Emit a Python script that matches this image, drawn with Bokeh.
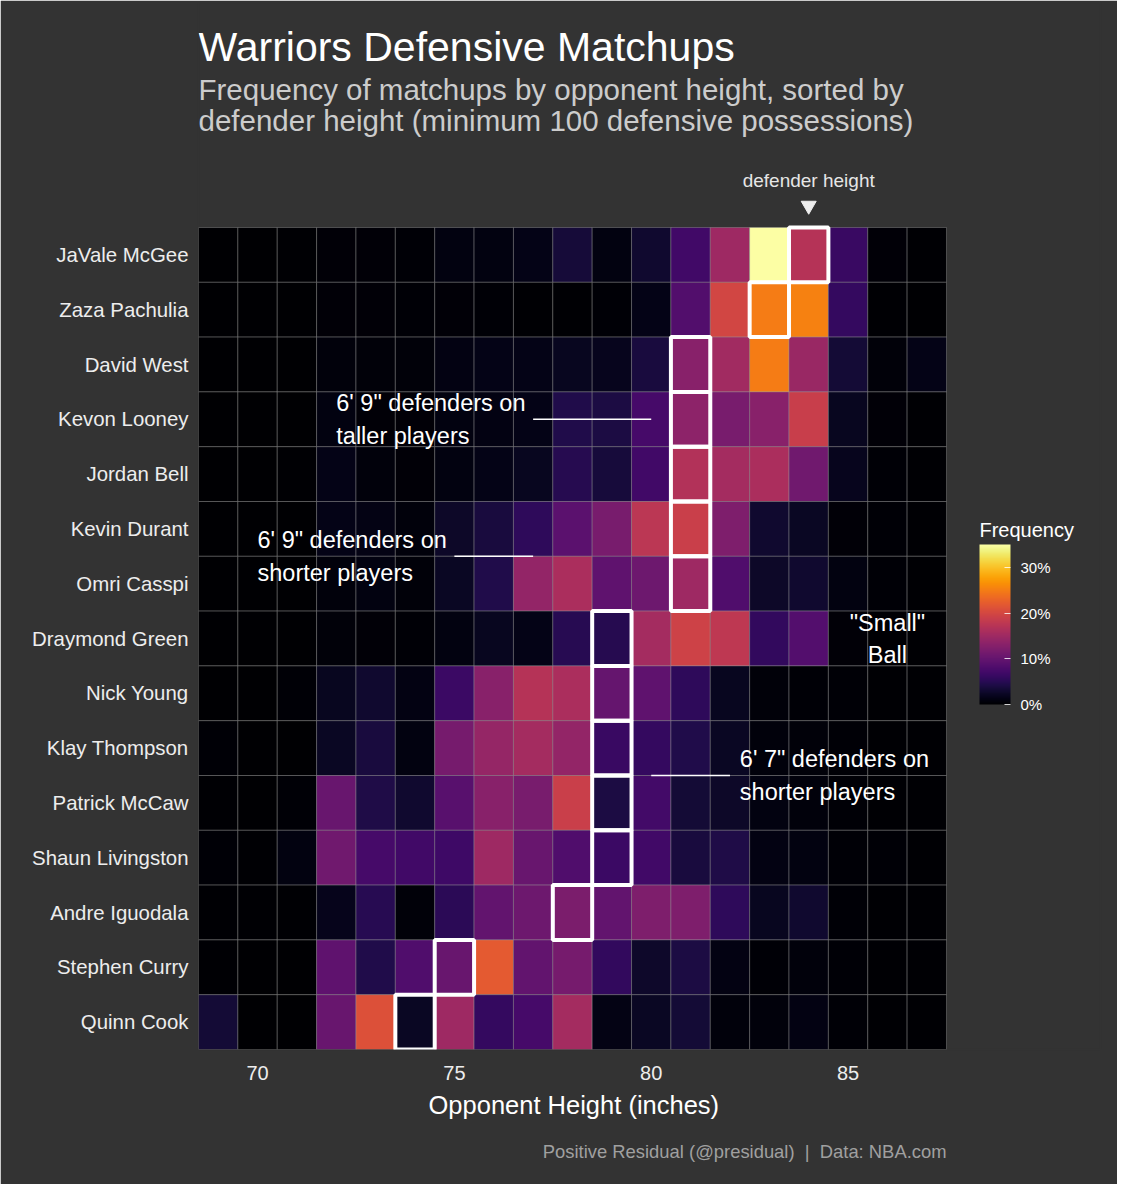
from bokeh.plotting import figure
from bokeh.models import (LinearColorMapper, ColorBar, FixedTicker, PrintfTickFormatter,
                          Range1d, ColumnDataSource, Title)
from bokeh.palettes import Inferno256
from bokeh.core.properties import value
from bokeh.embed import file_html
from bokeh.resources import INLINE

# ---------------- data ----------------
players = ["JaVale McGee", "Zaza Pachulia", "David West", "Kevon Looney", "Jordan Bell",
           "Kevin Durant", "Omri Casspi", "Draymond Green", "Nick Young", "Klay Thompson",
           "Patrick McCaw", "Shaun Livingston", "Andre Iguodala", "Stephen Curry", "Quinn Cook"]

heights = [69, 70, 71, 72, 73, 74, 75, 76, 77, 78, 79, 80, 81, 82, 83, 84, 85, 86, 87]

defender_heights = [84, 83, 81, 81, 81, 81, 81, 79, 79, 79, 79, 79, 78, 75, 74]

# frequency (%) of matchups by opponent height, one list per defender
javale_mcgee     = [0.1, 0.1, 0.2, 0.5, 0.5, 0.4, 1.0, 1.0, 1.5, 3.5, 1.0, 3.0, 7.0, 15.0, 35.0, 17.0, 6.3, 0.5, 0.2]
zaza_pachulia    = [0.1, 0.1, 0.1, 0.5, 0.5, 0.3, 0.5, 0.3, 0.2, 0.2, 0.3, 1.5, 8.4, 19.8, 25.0, 25.3, 6.0, 0.2, 0.1]
david_west       = [0.1, 0.1, 0.1, 0.8, 0.6, 0.6, 1.2, 1.5, 1.5, 2.0, 1.8, 3.8, 13.0, 15.2, 25.0, 14.5, 3.3, 0.6, 1.5]
kevon_looney     = [0.1, 0.1, 0.1, 1.0, 0.5, 0.5, 1.0, 1.2, 1.5, 4.5, 4.0, 7.5, 13.5, 11.7, 13.0, 18.8, 2.0, 0.5, 0.2]
jordan_bell      = [0.1, 0.1, 0.2, 1.5, 0.7, 0.5, 1.0, 1.5, 2.0, 4.8, 3.6, 7.0, 16.8, 15.5, 16.0, 11.0, 1.8, 0.4, 0.2]
kevin_durant     = [0.1, 0.1, 0.1, 1.5, 1.3, 0.8, 2.5, 3.8, 5.5, 9.2, 11.7, 17.5, 19.0, 12.3, 3.0, 2.3, 0.5, 0.4, 0.2]
omri_casspi      = [0.1, 0.1, 0.1, 0.8, 1.0, 0.6, 2.3, 4.5, 14.0, 16.0, 9.5, 10.7, 15.0, 8.3, 2.5, 3.0, 1.0, 0.3, 0.2]
draymond_green   = [0.1, 0.1, 0.1, 0.6, 0.5, 0.4, 1.0, 2.0, 1.5, 5.0, 4.8, 15.5, 19.3, 17.8, 5.8, 8.5, 0.5, 0.2, 0.2]
nick_young       = [0.1, 0.1, 0.3, 2.0, 3.0, 1.2, 6.5, 13.0, 17.0, 16.0, 10.0, 9.5, 5.5, 2.0, 0.6, 0.4, 0.3, 0.2, 0.2]
klay_thompson    = [0.3, 0.1, 0.1, 2.3, 3.8, 1.0, 11.5, 14.2, 15.5, 14.0, 6.3, 6.0, 4.5, 2.3, 0.7, 0.6, 0.3, 0.2, 0.2]
patrick_mccaw    = [0.2, 0.1, 0.4, 10.3, 4.3, 3.0, 9.0, 13.0, 11.7, 19.0, 4.0, 7.2, 3.3, 2.5, 1.0, 0.8, 0.4, 0.2, 0.2]
shaun_livingston = [0.4, 0.2, 1.0, 11.0, 7.5, 7.0, 6.7, 15.0, 10.3, 8.3, 6.5, 7.0, 3.8, 4.3, 1.2, 1.0, 0.4, 0.3, 0.2]
andre_iguodala   = [0.2, 0.2, 0.2, 1.7, 5.0, 0.6, 5.2, 9.8, 10.7, 12.0, 9.8, 12.3, 12.3, 5.5, 2.0, 3.0, 0.3, 0.2, 0.2]
stephen_curry    = [0.2, 0.1, 0.1, 9.5, 4.5, 8.3, 10.3, 22.0, 9.8, 11.5, 5.8, 2.7, 4.0, 1.2, 0.4, 0.8, 0.3, 0.2, 0.2]
quinn_cook       = [3.3, 0.1, 0.1, 10.3, 21.0, 2.3, 15.0, 6.0, 7.5, 15.5, 1.3, 2.3, 3.3, 0.8, 0.8, 1.2, 0.3, 0.2, 0.2]

freq_rows = [javale_mcgee, zaza_pachulia, david_west, kevon_looney, jordan_bell,
             kevin_durant, omri_casspi, draymond_green, nick_young, klay_thompson,
             patrick_mccaw, shaun_livingston, andre_iguodala, stephen_curry, quinn_cook]

x_ticks = [70, 75, 80, 85]
legend_ticks = [0, 10, 20, 30]

# ---------------- build ----------------
n = len(players)
row_y = {name: n - 1 - i for i, name in enumerate(players)}

xs, ys, fs = [], [], []
for name, row in zip(players, freq_rows):
    for h, f in zip(heights, row):
        xs.append(h)
        ys.append(row_y[name])
        fs.append(f)
src = ColumnDataSource(dict(x=xs, y=ys, freq=fs))

FONT = "Liberation Sans"
BG = "#333333"

mapper = LinearColorMapper(palette=Inferno256, low=0, high=max(fs))

# the frame is extended to the right so the legend title can sit inside it
p = figure(width=1117, height=1184,
           x_range=Range1d(68.5, 91.412), y_range=Range1d(-0.5, 18.606),
           output_backend="svg", toolbar_location=None,
           min_border_left=198, min_border_right=17, min_border_top=2, min_border_bottom=135,
           background_fill_color=BG, border_fill_color=BG,
           outline_line_color=BG, outline_line_width=1.5)
p.grid.visible = False

p.rect(x="x", y="y", width=1, height=1, source=src,
       fill_color={"field": "freq", "transform": mapper},
       line_color="#9a9a9a", line_width=0.7, line_alpha=0.6)

# defender height boxes
p.rect(x=defender_heights, y=[row_y[nm] for nm in players], width=1, height=1,
       fill_color=None, line_color="white", line_width=4)

# axes
p.yaxis.ticker = FixedTicker(ticks=list(range(n)))
p.yaxis.major_label_overrides = {row_y[nm]: nm for nm in players}
p.yaxis.axis_line_color = None
p.yaxis.major_tick_line_color = None
p.yaxis.minor_tick_line_color = None
p.yaxis.major_tick_out = 0
p.yaxis.major_tick_in = 0
p.yaxis.major_label_standoff = 10
p.yaxis.major_label_text_font = FONT
p.yaxis.major_label_text_font_size = "20.4px"
p.yaxis.major_label_text_color = "#ededed"

p.xaxis.ticker = FixedTicker(ticks=x_ticks)
p.xaxis.axis_line_color = None
p.xaxis.major_tick_line_color = None
p.xaxis.minor_tick_line_color = None
p.xaxis.major_tick_out = 0
p.xaxis.major_tick_in = 0
p.xaxis.major_label_standoff = 16
p.xaxis.major_label_text_font = FONT
p.xaxis.major_label_text_font_size = "20px"
p.xaxis.major_label_text_color = "#ededed"

# x axis title centred under the tiles (the axis itself spans the wider frame)
p.add_layout(Title(text="Opponent Height (inches)", align="left", offset=230,
                   text_font=FONT, text_font_size="25.5px", text_font_style="normal",
                   text_color="white", standoff=12), "below")

# titles (drawn in the empty space above the tiles)
p.text(x=[68.5], y=[17.785], text=["Warriors Defensive Matchups"],
       text_font=value(FONT), text_font_size="41px", text_color="white",
       text_align="left", text_baseline="middle")
p.text(x=[68.5, 68.5], y=[17.018, 16.453],
       text=["Frequency of matchups by opponent height, sorted by",
             "defender height (minimum 100 defensive possessions)"],
       text_font=value(FONT), text_font_size="29.5px", text_color="#cccccc",
       text_align="left", text_baseline="middle")

# defender height marker
p.text(x=[84], y=[15.36], text=["defender height"], text_font=value(FONT),
       text_font_size="19px", text_color="#e6e6e6", text_align="center", text_baseline="middle")
p.scatter(x=[84], y=[14.9], marker="inverted_triangle", size=15, color="#eeeeee")

# annotations
ann_x = [72, 70, 82.25]
ann_y = [11, 8.5, 4.5]
ann_line1 = ["6' 9\" defenders on", "6' 9\" defenders on", "6' 7\" defenders on"]
ann_line2 = ["taller players", "shorter players", "shorter players"]
seg_x0 = [77, 75, 80]
seg_x1 = [80, 77, 82]

half = 0.301
p.text(x=ann_x + ann_x, y=[v + half for v in ann_y] + [v - half for v in ann_y],
       text=ann_line1 + ann_line2, text_font=value(FONT), text_font_size="23.5px",
       text_color="white", text_align="left", text_baseline="middle")
p.segment(x0=seg_x0, y0=ann_y, x1=seg_x1, y1=ann_y, line_color="white", line_width=1.5)

p.text(x=[86, 86], y=[7 + 0.292, 7 - 0.292], text=['"Small"', "Ball"], text_font=value(FONT),
       text_font_size="23.5px", text_color="white", text_align="center", text_baseline="middle")

# color bar (offsets measured from the frame's lower left)
cb = ColorBar(color_mapper=mapper, ticker=FixedTicker(ticks=legend_ticks),
              formatter=PrintfTickFormatter(format="%d%%"),
              width=31, height=160, location=(771, 335), padding=10,
              major_label_text_font=FONT, major_label_text_font_size="15px",
              major_label_text_color="white", label_standoff=10,
              major_tick_line_color="white", major_tick_line_alpha=0.8,
              major_tick_in=6, major_tick_out=0, bar_line_color=None,
              background_fill_alpha=0.0, border_line_color=None)
p.add_layout(cb, "center")
p.text(x=[88.338], y=[8.971], text=["Frequency"], text_font=value(FONT),
       text_font_size="20px", text_color="white", text_align="left", text_baseline="middle")

# caption
cap = Title(text="Positive Residual (@presidual) \u00a0|\u00a0 Data: NBA.com", align="right",
            offset=154, text_font=FONT, text_font_size="18.4px", text_font_style="normal",
            text_color="#a0a0a0", standoff=28)
p.add_layout(cap, "below")

open("out.html", "w").write(file_html(p, INLINE))
